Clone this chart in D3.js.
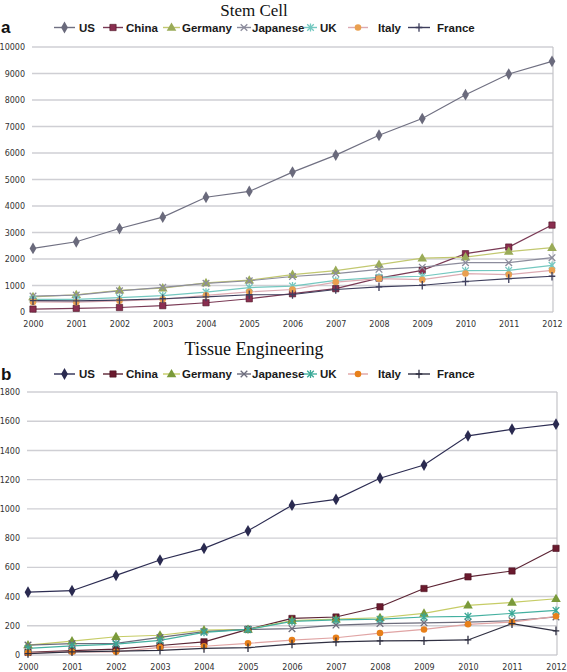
<!DOCTYPE html>
<html><head><meta charset="utf-8">
<script src="https://cdn.jsdelivr.net/npm/d3@7"></script>
<style>body{margin:0;background:#fff}svg{display:block}</style>
</head><body>
<svg id="c" width="567" height="672"></svg>
<script>
const years = [2000,2001,2002,2003,2004,2005,2006,2007,2008,2009,2010,2011,2012];
const countries = ["US","China","Germany","Japanese","UK","Italy","France"];

// Panel a: Stem Cell
const stemUS       = [2400,2650,3150,3580,4330,4550,5280,5920,6670,7300,8200,8980,9460];
const stemChina    = [110,140,170,240,350,500,690,880,1280,1570,2200,2450,3280];
const stemGermany  = [570,650,820,900,1100,1200,1410,1560,1790,2030,2070,2280,2430];
const stemJapanese = [600,640,800,930,1080,1180,1340,1450,1610,1690,1860,1860,2050];
const stemUK       = [480,480,540,620,750,920,980,1190,1310,1350,1560,1570,1760];
const stemItaly    = [380,370,420,480,630,760,850,1130,1260,1220,1450,1410,1570];
const stemFrance   = [430,420,450,500,570,650,660,850,950,1010,1150,1260,1350];
const stemTicks    = [0,1000,2000,3000,4000,5000,6000,7000,8000,9000,10000];

// Panel b: Tissue Engineering
const tissueUS       = [430,440,545,650,730,850,1025,1065,1210,1300,1500,1545,1580];
const tissueChina    = [18,30,40,65,90,175,250,260,330,455,535,575,730];
const tissueGermany  = [68,95,125,135,170,175,235,245,255,285,340,360,385];
const tissueJapanese = [68,78,80,120,160,175,180,205,215,220,225,235,260];
const tissueUK       = [45,62,75,100,155,175,230,240,245,260,265,285,305];
const tissueItaly    = [15,22,22,52,60,80,102,118,150,175,210,225,265];
const tissueFrance   = [10,22,27,32,45,50,75,90,97,98,103,215,165];
const tissueTicks    = [0,200,400,600,800,1000,1200,1400,1600,1800];

const shapes = ["diamond","square","triangle","x","asterisk","circle","plus"];
const colorsA = {
  line:   ["#707082","#7a3a55","#c2c870","#8c8c9c","#74c8c0","#dcaab2","#3e3e5c"],
  marker: ["#6a6a7c","#8a2e50","#9aab58","#8c8c9c","#74c8c0","#eaa050","#3e3e5c"]
};
const colorsB = {
  line:   ["#2c2c52","#5c2434","#c6cc66","#6c6c7c","#44b0a0","#e0a4a4","#303042"],
  marker: ["#2a2a50","#6a1a2e","#7a9a3a","#6c6c7c","#3aa896","#e8801a","#303042"]
};

const svg = d3.select("#c");

function marker(g, shape, x, y, color, s) {
  s = s || 1;
  if (shape === "diamond") {
    g.append("path").attr("d", d3.symbol(d3.symbolDiamond, 40*s)()).attr("transform",`translate(${x},${y})`).attr("fill",color);
  } else if (shape === "square") {
    g.append("path").attr("d", d3.symbol(d3.symbolSquare, 40*s)()).attr("transform",`translate(${x},${y})`).attr("fill",color).attr("stroke","#4a1020").attr("stroke-width",0.6);
  } else if (shape === "triangle") {
    g.append("path").attr("d", d3.symbol(d3.symbolTriangle, 40*s)()).attr("transform",`translate(${x},${y+0.5})`).attr("fill",color);
  } else if (shape === "circle") {
    g.append("path").attr("d", d3.symbol(d3.symbolCircle, 34*s)()).attr("transform",`translate(${x},${y})`).attr("fill",color);
  } else {
    const r = 3.3*Math.sqrt(s);
    let d = "";
    if (shape === "x" || shape === "asterisk") d += `M${-r},${-r}L${r},${r}M${-r},${r}L${r},${-r}`;
    if (shape === "asterisk") d += `M0,${-r*1.2}L0,${r*1.2}`;
    if (shape === "plus") d += `M0,${-r*1.3}L0,${r*1.3}M${-r},0L${r},0`;
    g.append("path").attr("d", d).attr("transform",`translate(${x},${y})`).attr("stroke",color).attr("stroke-width",1.3).attr("fill","none");
  }
}

function drawPanel(p) {
  const g = svg.append("g");
  const x = d3.scaleLinear().domain([years[0], years[years.length-1]]).range([p.x0, p.x1]);
  const y = d3.scaleLinear().domain([0, p.ticks[p.ticks.length-1]]).range([p.y0, p.y1]);

  g.selectAll(".grid").data(p.ticks).enter().append("line")
    .attr("x1", p.x0 - 1).attr("x2", p.x1 + 1)
    .attr("y1", d => y(d)).attr("y2", d => y(d))
    .attr("stroke", "#cfcfd4").attr("stroke-width", 1.4);
  g.append("line").attr("x1", p.x1 + 1).attr("x2", p.x1 + 1).attr("y1", y(p.ticks[p.ticks.length-1])).attr("y2", y(0))
    .attr("stroke", "#c4c4c8").attr("stroke-width", 1.2);

  const ya = d3.axisLeft(y).tickValues(p.ticks).tickSize(0).tickPadding(0).tickFormat(d3.format("d"));
  const yg = g.append("g").attr("transform", `translate(${p.ylabX},0)`).call(ya);
  yg.select(".domain").remove();
  yg.selectAll("text").attr("font-family","DejaVu Sans").attr("font-size","8px").attr("fill","#333").attr("dy","0.32em");

  const xa = d3.axisBottom(x).tickValues(years).tickSize(0).tickPadding(0).tickFormat(d3.format("d"));
  const xg = g.append("g").attr("transform", `translate(0,${p.xlabY})`).call(xa);
  xg.select(".domain").remove();
  xg.selectAll("text").attr("font-family","DejaVu Sans").attr("font-size","8px").attr("fill","#333").attr("dy","0");

  const line = d3.line().x((d,i) => x(years[i])).y(d => y(d));
  p.series.forEach((vals, k) => {
    g.append("path").datum(vals).attr("d", line).attr("fill","none")
      .attr("stroke", p.colors.line[k]).attr("stroke-width", 1.2);
  });
  p.series.forEach((vals, k) => {
    vals.forEach((v,i) => marker(g, shapes[k], x(years[i]), y(v), p.colors.marker[k]));
  });

  svg.append("text").attr("x", 254).attr("y", p.titleY).attr("text-anchor","middle")
    .attr("font-family","Liberation Serif").attr("font-size", p.titleSize).attr("fill","#111").text(p.title);
  svg.append("text").attr("x", 1).attr("y", p.legY + 1.5).attr("font-family","Liberation Sans").attr("font-weight","bold")
    .attr("font-size","17px").attr("fill","#111").text(p.letter);

  const legLine = [[54,75],[103,123],[163,180],[237,251],[304,317],[348,368],[408,430]];
  const legText = [79,126,182,252,320,378,437];
  countries.forEach((c, k) => {
    const ly = p.legY - 4;
    g.append("line").attr("x1", legLine[k][0]).attr("x2", legLine[k][1]).attr("y1", ly).attr("y2", ly)
      .attr("stroke", p.colors.line[k]).attr("stroke-width", 1.4);
    marker(g, shapes[k], (legLine[k][0]+legLine[k][1])/2, ly, p.colors.marker[k]);
    g.append("text").attr("x", legText[k]).attr("y", p.legY).attr("font-family","Liberation Sans")
      .attr("font-weight","bold").attr("font-size","11.5px").attr("fill","#1a1a1a").text(c);
  });
}

drawPanel({
  title: "Stem Cell", titleY: 16, titleSize: "17px", letter: "a", legY: 31.5,
  x0: 33, x1: 552, y0: 312, y1: 47, ylabX: 25, xlabY: 327,
  ticks: stemTicks,
  series: [stemUS, stemChina, stemGermany, stemJapanese, stemUK, stemItaly, stemFrance],
  colors: colorsA
});
drawPanel({
  title: "Tissue Engineering", titleY: 355, titleSize: "18px", letter: "b", legY: 378,
  x0: 28, x1: 556, y0: 655, y1: 392, ylabX: 20, xlabY: 670,
  ticks: tissueTicks,
  series: [tissueUS, tissueChina, tissueGermany, tissueJapanese, tissueUK, tissueItaly, tissueFrance],
  colors: colorsB
});
</script>
</body></html>
